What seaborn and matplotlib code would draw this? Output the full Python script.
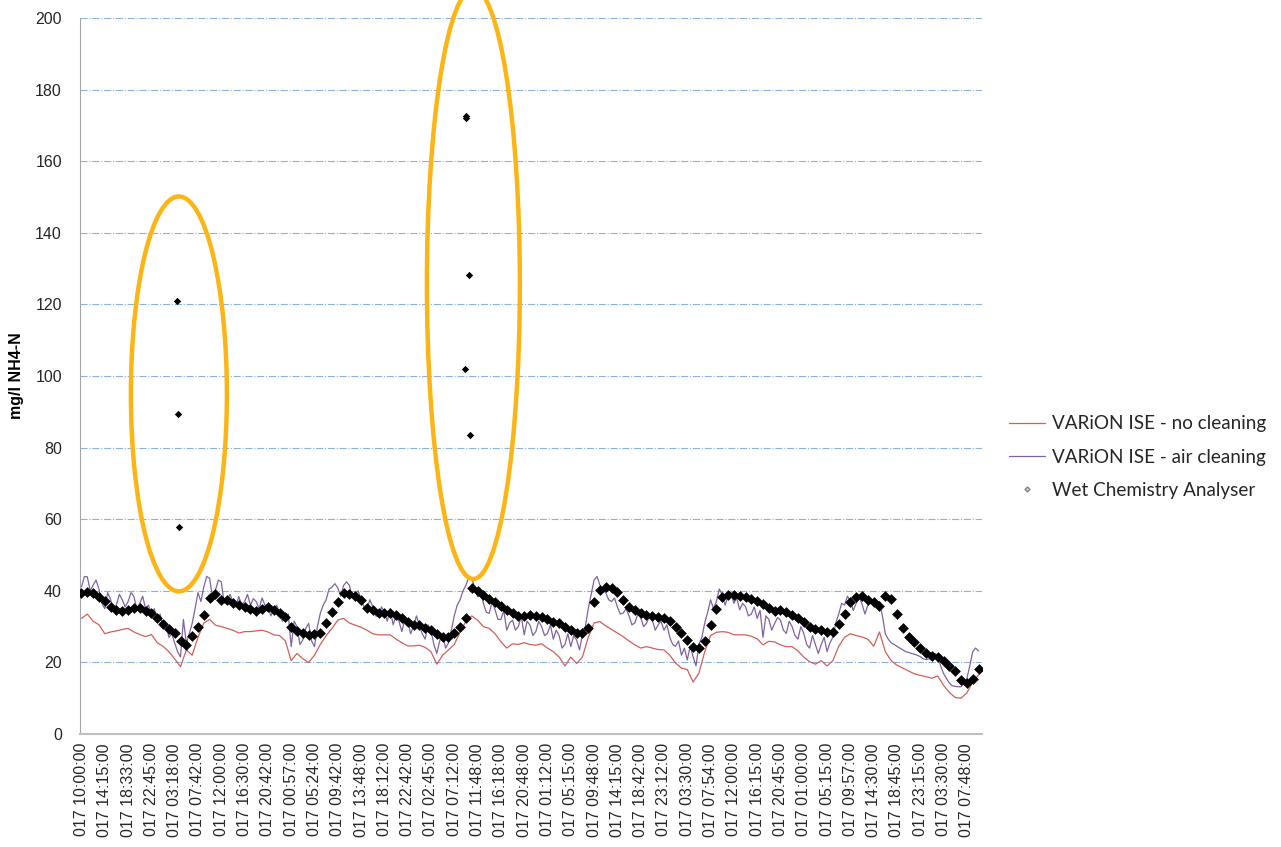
import numpy as np
import pandas as pd
import seaborn as sns
import matplotlib.pyplot as plt
from matplotlib.lines import Line2D
from matplotlib.patches import Ellipse

# x tick labels (date part is cut off in the original export)
tick_labels = ["017 10:00:00", "017 14:15:00", "017 18:33:00", "017 22:45:00", "017 03:18:00",
               "017 07:42:00", "017 12:00:00", "017 16:30:00", "017 20:42:00", "017 00:57:00",
               "017 05:24:00", "017 09:42:00", "017 13:48:00", "017 18:12:00", "017 22:42:00",
               "017 02:45:00", "017 07:12:00", "017 11:48:00", "017 16:18:00", "017 20:48:00",
               "017 01:12:00", "017 05:15:00", "017 09:48:00", "017 14:15:00", "017 18:42:00",
               "017 23:12:00", "017 03:30:00", "017 07:54:00", "017 12:00:00", "017 16:15:00",
               "017 20:45:00", "017 01:00:00", "017 05:15:00", "017 09:57:00", "017 14:30:00",
               "017 18:45:00", "017 23:15:00", "017 03:30:00", "017 07:48:00"]

# no cleaning + wet chemistry: 4 readings per labelled tick, mg/l NH4-N
no_cleaning = [32.3, 33.5, 31.5, 30.5, 28.0, 28.5, 28.8, 29.2, 29.5, 28.5, 27.8, 27.2,
               27.8, 25.5, 24.5, 23.0, 21.0, 18.8, 23.5, 22.0, 27.0, 31.0, 32.0, 30.4,
               30.0, 29.5, 29.0, 28.2, 28.6, 28.6, 28.8, 29.0, 28.5, 27.7, 27.5, 26.0,
               20.5, 22.5, 21.0, 20.0, 22.0, 25.0, 27.5, 29.5, 31.8, 32.3, 31.0, 30.4,
               29.8, 29.0, 28.0, 27.7, 27.7, 27.7, 26.5, 25.5, 24.6, 24.6, 24.8, 24.2,
               23.0, 19.5, 22.0, 23.5, 25.0, 28.5, 31.5, 33.0, 31.8, 30.0, 29.5, 28.0,
               25.8, 24.0, 25.2, 25.0, 25.5, 25.0, 24.8, 25.2, 24.0, 23.0, 21.5, 19.0,
               21.5, 19.7, 21.5, 27.0, 31.0, 31.4, 30.2, 29.2, 28.2, 27.2, 26.0, 24.9,
               24.0, 24.4, 24.0, 23.6, 23.5, 22.0, 19.8, 18.4, 18.0, 14.5, 17.0, 23.0,
               27.5, 28.4, 28.6, 28.4, 27.7, 27.7, 27.7, 27.3, 26.6, 24.9, 25.9, 25.7,
               24.9, 24.4, 24.4, 23.2, 21.5, 20.2, 19.5, 20.5, 19.0, 20.5, 24.5, 27.0,
               28.0, 27.5, 27.1, 26.5, 24.5, 28.5, 23.0, 20.5, 19.2, 18.4, 17.6, 16.8,
               16.4, 16.0, 15.6, 16.2, 13.6, 11.6, 10.2, 10.0, 11.5, 14.5, 16.5]

wet_chem = [39.3, 39.7, 39.4, 38.4, 37.2, 35.5, 34.5, 34.3, 34.7, 35.1, 35.1, 34.4,
            33.8, 32.3, 30.8, 29.3, 28.2, 26.1, 24.8, 27.3, 30.0, 33.3, 38.0, 39.0,
            37.5, 37.4, 36.5, 36.0, 35.5, 34.9, 34.4, 35.0, 35.4, 34.6, 33.9, 32.6,
            30.0, 28.9, 28.3, 27.7, 27.8, 28.3, 31.1, 34.0, 37.0, 39.5, 39.2, 38.5,
            37.3, 35.1, 34.7, 33.9, 33.7, 33.7, 33.2, 32.4, 31.3, 30.4, 30.4, 29.7,
            29.0, 28.0, 27.2, 27.2, 28.3, 30.0, 32.3, 40.7, 40.0, 38.7, 37.7, 36.8,
            35.8, 34.6, 33.8, 33.0, 33.0, 33.2, 33.0, 32.7, 32.2, 31.4, 31.0, 29.8,
            29.0, 28.3, 28.2, 29.5, 36.8, 40.2, 41.0, 40.7, 39.7, 37.5, 35.6, 34.7,
            33.7, 33.2, 32.9, 32.8, 32.5, 31.5, 29.8, 28.2, 26.2, 24.4, 24.0, 26.0,
            30.5, 35.0, 38.3, 38.8, 38.8, 38.5, 38.3, 37.7, 37.1, 36.4, 35.2, 34.3,
            34.5, 34.2, 33.3, 32.5, 31.2, 30.0, 29.4, 29.0, 28.6, 28.6, 30.6, 33.6,
            36.9, 38.4, 38.5, 37.4, 36.9, 35.7, 38.5, 37.8, 33.5, 29.5, 27.2, 25.7,
            24.0, 22.6, 21.8, 21.6, 20.5, 18.9, 17.5, 15.2, 14.2, 15.4, 18.2]

# air cleaning is noisier, read at 8 per tick
air_cleaning = [41.1, 44.0, 43.9, 40.0, 41.6, 43.0, 40.5, 36.5,
                35.0, 39.5, 37.5, 34.5, 36.1, 39.0, 37.5, 35.5,
                37.0, 39.5, 38.4, 35.0, 36.5, 38.5, 35.0, 36.0,
                33.2, 35.0, 31.5, 33.5, 29.5, 31.0, 27.0, 28.0,
                25.4, 23.0, 21.5, 32.0, 25.4, 28.0, 30.9, 35.0,
                39.5, 37.0, 41.1, 44.0, 43.5, 38.0, 40.2, 43.0,
                42.5, 36.5, 37.5, 39.0, 37.0, 35.5, 38.4, 36.0,
                37.0, 39.0, 36.0, 37.8, 37.0, 35.0, 38.0, 36.0,
                35.6, 33.0, 34.7, 36.0, 33.7, 31.5, 32.3, 33.5,
                24.4, 31.5, 30.0, 25.0, 26.3, 29.5, 30.9, 26.0,
                24.4, 30.0, 33.7, 36.0, 37.5, 40.5, 41.0, 42.0,
                40.8, 38.5, 41.5, 42.5, 41.5, 38.0, 39.2, 40.0,
                37.5, 35.5, 34.7, 37.5, 35.6, 33.0, 32.8, 35.5,
                34.0, 31.5, 35.0, 30.5, 33.0, 31.5, 28.6, 32.0,
                31.8, 28.0, 30.0, 33.0, 30.4, 28.0, 26.5, 30.5,
                29.0, 25.0, 22.5, 26.0, 28.1, 24.0, 25.4, 29.0,
                33.0, 36.0, 37.5, 40.0, 41.5, 44.0, 43.5, 41.0,
                38.4, 40.0, 36.5, 34.0, 33.7, 37.0, 34.7, 32.0,
                32.0, 34.5, 29.0, 31.0, 31.8, 29.0, 30.0, 33.0,
                27.7, 31.5, 30.4, 27.5, 28.6, 31.5, 30.0, 27.5,
                28.1, 30.5, 26.5, 29.0, 27.5, 24.0, 25.0, 28.0,
                24.4, 27.5, 26.3, 23.5, 27.7, 30.0, 35.0, 39.0,
                43.0, 44.0, 41.6, 40.0, 39.5, 37.5, 37.0, 38.0,
                35.5, 33.5, 33.8, 35.0, 33.0, 30.5, 31.0, 33.5,
                32.5, 30.0, 30.9, 33.0, 31.8, 29.0, 30.5, 31.5,
                29.0, 30.5, 27.0, 25.0, 24.5, 26.0, 22.0, 24.0,
                20.7, 24.5, 21.6, 19.0, 25.0, 27.0, 31.0, 34.0,
                37.5, 35.0, 37.0, 40.5, 39.0, 36.0, 38.5, 39.5,
                36.5, 38.0, 34.7, 36.5, 35.6, 33.0, 33.5, 35.5,
                32.3, 34.5, 27.0, 33.0, 32.0, 29.0, 30.9, 32.5,
                31.8, 29.0, 28.1, 31.5, 30.0, 27.5, 26.5, 30.0,
                28.1, 25.0, 24.0, 27.5, 25.0, 22.5, 25.0, 27.0,
                23.0, 25.5, 27.0, 31.0, 33.5, 36.5, 36.0, 38.5,
                37.2, 34.5, 36.5, 38.5, 36.3, 33.5, 36.0, 37.5,
                35.6, 36.5, 37.0, 33.0, 28.0, 26.5, 25.5, 25.0,
                24.5, 24.0, 23.5, 23.0, 22.8, 22.5, 22.3, 22.0,
                21.6, 21.0, 20.8, 21.0, 20.7, 22.5, 22.0, 19.0,
                16.9, 15.5, 14.2, 13.5, 13.3, 13.2, 13.2, 14.0,
                15.5, 19.0, 23.0, 24.0, 23.2]

# wet chemistry readings that jumped out (position in tick units, value)
outlier_pos = [4.10, 4.14, 4.18, 16.46, 16.50, 16.52, 16.63, 16.67]
outlier_val = [120.9, 89.4, 57.8, 102.0, 172.6, 172.0, 128.2, 83.5]

pos = np.arange(len(no_cleaning)) * 0.25
red = pd.DataFrame({"pos": pos, "val": no_cleaning})
purple = pd.DataFrame({"pos": np.arange(len(air_cleaning)) * 0.125, "val": air_cleaning})
wet = pd.DataFrame({"pos": pos, "val": wet_chem})
spikes = pd.DataFrame({"pos": outlier_pos, "val": outlier_val})

sns.set_style("white")
plt.rcParams["font.family"] = ["Liberation Sans", "DejaVu Sans"]

fig = plt.figure(figsize=(12.81, 8.47), dpi=100)
ax = fig.add_axes([80 / 1281, 1 - 734 / 847, 902 / 1281, 716 / 847])

sns.lineplot(data=red, x="pos", y="val", ax=ax, color="#D0605C", lw=0.9, zorder=3)
sns.lineplot(data=purple, x="pos", y="val", ax=ax, color="#8064A2", lw=0.9, zorder=2)
sns.scatterplot(data=wet, x="pos", y="val", ax=ax, marker="D", color="black",
                s=30, linewidth=0, zorder=4)
sns.scatterplot(data=spikes, x="pos", y="val", ax=ax, marker="D", color="black",
                s=14, linewidth=0, zorder=4)

ax.add_patch(Ellipse((4.18, 95.0), 4.12, 110.3, fill=False, ec="#FDB515", lw=3.2,
                     clip_on=False, zorder=5))
ax.add_patch(Ellipse((16.82, 125.7), 3.99, 164.8, fill=False, ec="#FDB515", lw=3.2,
                     clip_on=False, zorder=5))

ax.set_xlim(-0.064, 38.65)
ax.set_ylim(0, 200)
ax.set_yticks(range(0, 201, 20))
ax.set_xticks(range(len(tick_labels)))
ax.set_xticklabels(tick_labels, rotation=90, fontsize=11.5, color="#262626")
ax.tick_params(axis="y", labelsize=11.5, labelcolor="#262626", length=0, pad=13)
ax.tick_params(axis="x", length=0, pad=6.5)
ax.yaxis.grid(True, color="#8EB0DC", ls="-.", lw=0.8)
ax.xaxis.grid(False)
for side in ["top", "right"]:
    ax.spines[side].set_visible(False)
ax.spines["left"].set_color("#A6A6A6")
ax.spines["bottom"].set_color("#C0C0C0")
ax.spines["bottom"].set_linewidth(1.5)

ax.set_xlabel("")
ax.set_ylabel("mg/l NH4-N", fontsize=11.5, fontweight="bold", color="black")
ax.yaxis.set_label_coords(-0.062, 0.5)

handles = [Line2D([], [], color="#D0605C", lw=0.9),
           Line2D([], [], color="#8064A2", lw=0.9),
           Line2D([], [], marker="D", ls="none", markersize=2.5, color="#808080",
                  markerfacecolor="#D9D9D9")]
labels = ["VARiON ISE - no cleaning", "VARiON ISE - air cleaning", "Wet Chemistry Analyser"]
fig.legend(handles, labels, loc="center left", bbox_to_anchor=(1009 / 1281, 1 - 457 / 847),
           frameon=False, borderpad=0, borderaxespad=0, handlelength=1.9,
           handletextpad=0.35, labelspacing=0.85,
           prop={"family": ["Lato", "DejaVu Sans"], "size": 13.6})

fig.savefig("out.png", dpi=100)
